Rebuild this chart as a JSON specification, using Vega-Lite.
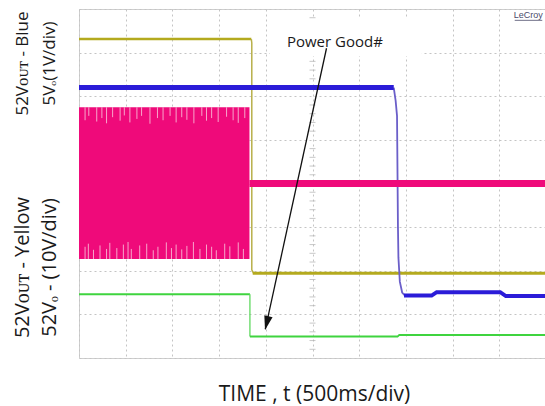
{
  "$schema": "https://vega.github.io/schema/vega-lite/v6.json",
  "width": 467,
  "height": 349,
  "autosize": {"type": "none"},
  "padding": {"left": 79, "top": 9, "right": 0, "bottom": 48},
  "background": "white",
  "config": {"view": {"stroke": "#cfcfcf", "strokeWidth": 1}, "font": "Open Sans"},
  "datasets": {
    "yellowHi": [{"t": 0, "v": 7.31}, {"t": 3.69, "v": 7.31}],
    "yellowEdge": [{"t": 3.69, "v": 7.31}, {"t": 3.7, "v": 7.22}, {"t": 3.7, "v": 2.02}, {"t": 3.74, "v": 1.94}],
    "yellowLo": [{"t": 3.72, "v": 1.94}, {"t": 10, "v": 1.94}],
    "blueHi": [{"t": 0, "v": 6.2}, {"t": 6.74, "v": 6.2}],
    "blueEdge": [{"t": 6.74, "v": 6.2}, {"t": 6.78, "v": 5.9}, {"t": 6.81, "v": 5.55}, {"t": 6.83, "v": 3.0}, {"t": 6.84, "v": 2.3}, {"t": 6.87, "v": 1.75}, {"t": 6.92, "v": 1.5}, {"t": 6.98, "v": 1.43}],
    "blueLo": [{"t": 6.96, "v": 1.43}, {"t": 7.55, "v": 1.43}, {"t": 7.66, "v": 1.51}, {"t": 9.02, "v": 1.51}, {"t": 9.14, "v": 1.42}, {"t": 10, "v": 1.42}],
    "magBand": [{"t": 0, "v": 2.27, "v2": 5.75}, {"t": 3.65, "v": 2.27, "v2": 5.75}],
    "magFlat": [{"t": 3.65, "v": 4.0}, {"t": 10, "v": 4.0}],
    "greenHi": [{"t": 0, "v": 1.46}, {"t": 3.66, "v": 1.46}],
    "greenEdge": [{"t": 3.66, "v": 1.46}, {"t": 3.66, "v": 0.49}],
    "greenLo": [{"t": 3.66, "v": 0.49}, {"t": 6.82, "v": 0.49}, {"t": 6.86, "v": 0.53}, {"t": 10, "v": 0.53}],
    "streaksTop": [
      {"t": 0.13, "v": 5.75, "v2": 5.45}, {"t": 0.21, "v": 5.75, "v2": 5.55}, {"t": 0.38, "v": 5.75, "v2": 5.42}, {"t": 0.49, "v": 5.75, "v2": 5.5}, {"t": 0.59, "v": 5.75, "v2": 5.38}, {"t": 0.72, "v": 5.75, "v2": 5.52}, {"t": 0.88, "v": 5.75, "v2": 5.44}, {"t": 0.97, "v": 5.75, "v2": 5.56}, {"t": 1.09, "v": 5.75, "v2": 5.4}, {"t": 1.24, "v": 5.75, "v2": 5.48}, {"t": 1.34, "v": 5.75, "v2": 5.55}, {"t": 1.52, "v": 5.75, "v2": 5.37}, {"t": 1.68, "v": 5.75, "v2": 5.5}, {"t": 1.8, "v": 5.75, "v2": 5.45}, {"t": 1.95, "v": 5.75, "v2": 5.55}, {"t": 2.08, "v": 5.75, "v2": 5.4}, {"t": 2.2, "v": 5.75, "v2": 5.52}, {"t": 2.31, "v": 5.75, "v2": 5.46}, {"t": 2.46, "v": 5.75, "v2": 5.38}, {"t": 2.63, "v": 5.75, "v2": 5.55}, {"t": 2.73, "v": 5.75, "v2": 5.44}, {"t": 2.84, "v": 5.75, "v2": 5.5}, {"t": 2.98, "v": 5.75, "v2": 5.41}, {"t": 3.16, "v": 5.75, "v2": 5.53}, {"t": 3.3, "v": 5.75, "v2": 5.45}, {"t": 3.41, "v": 5.75, "v2": 5.39}, {"t": 3.55, "v": 5.75, "v2": 5.5}
    ],
    "streaksBottom": [
      {"t": 0.13, "v": 2.27, "v2": 2.55}, {"t": 0.2, "v": 2.27, "v2": 2.62}, {"t": 0.31, "v": 2.27, "v2": 2.48}, {"t": 0.45, "v": 2.27, "v2": 2.58}, {"t": 0.59, "v": 2.27, "v2": 2.5}, {"t": 0.66, "v": 2.27, "v2": 2.64}, {"t": 0.81, "v": 2.27, "v2": 2.52}, {"t": 0.95, "v": 2.27, "v2": 2.6}, {"t": 1.05, "v": 2.27, "v2": 2.66}, {"t": 1.12, "v": 2.27, "v2": 2.5}, {"t": 1.3, "v": 2.27, "v2": 2.58}, {"t": 1.45, "v": 2.27, "v2": 2.62}, {"t": 1.59, "v": 2.27, "v2": 2.47}, {"t": 1.69, "v": 2.27, "v2": 2.55}, {"t": 1.87, "v": 2.27, "v2": 2.65}, {"t": 1.98, "v": 2.27, "v2": 2.52}, {"t": 2.08, "v": 2.27, "v2": 2.6}, {"t": 2.2, "v": 2.27, "v2": 2.49}, {"t": 2.31, "v": 2.27, "v2": 2.57}, {"t": 2.45, "v": 2.27, "v2": 2.66}, {"t": 2.59, "v": 2.27, "v2": 2.5}, {"t": 2.73, "v": 2.27, "v2": 2.6}, {"t": 2.84, "v": 2.27, "v2": 2.55}, {"t": 2.94, "v": 2.27, "v2": 2.47}, {"t": 3.12, "v": 2.27, "v2": 2.62}, {"t": 3.23, "v": 2.27, "v2": 2.56}, {"t": 3.41, "v": 2.27, "v2": 2.65}, {"t": 3.52, "v": 2.27, "v2": 2.5}
    ],
    "crossY": [
      {"t": 5, "v": 0.2}, {"t": 5, "v": 0.4}, {"t": 5, "v": 0.6}, {"t": 5, "v": 0.8}, {"t": 5, "v": 1.2}, {"t": 5, "v": 1.4}, {"t": 5, "v": 1.6}, {"t": 5, "v": 1.8}, {"t": 5, "v": 2.2}, {"t": 5, "v": 2.4}, {"t": 5, "v": 2.6}, {"t": 5, "v": 2.8}, {"t": 5, "v": 3.2}, {"t": 5, "v": 3.4}, {"t": 5, "v": 3.6}, {"t": 5, "v": 3.8}, {"t": 5, "v": 4.2}, {"t": 5, "v": 4.4}, {"t": 5, "v": 4.6}, {"t": 5, "v": 4.8}, {"t": 5, "v": 5.2}, {"t": 5, "v": 5.4}, {"t": 5, "v": 5.6}, {"t": 5, "v": 5.8}, {"t": 5, "v": 6.2}, {"t": 5, "v": 6.4}, {"t": 5, "v": 6.6}, {"t": 5, "v": 6.8}, {"t": 5, "v": 7.2}, {"t": 5, "v": 7.4}, {"t": 5, "v": 7.6}, {"t": 5, "v": 7.8}
    ],
    "crossX": [
      {"t": 0.2, "v": 4}, {"t": 0.4, "v": 4}, {"t": 0.6, "v": 4}, {"t": 0.8, "v": 4}, {"t": 1.2, "v": 4}, {"t": 1.4, "v": 4}, {"t": 1.6, "v": 4}, {"t": 1.8, "v": 4}, {"t": 2.2, "v": 4}, {"t": 2.4, "v": 4}, {"t": 2.6, "v": 4}, {"t": 2.8, "v": 4}, {"t": 3.2, "v": 4}, {"t": 3.4, "v": 4}, {"t": 3.6, "v": 4}, {"t": 3.8, "v": 4}, {"t": 4.2, "v": 4}, {"t": 4.4, "v": 4}, {"t": 4.6, "v": 4}, {"t": 4.8, "v": 4}, {"t": 5.2, "v": 4}, {"t": 5.4, "v": 4}, {"t": 5.6, "v": 4}, {"t": 5.8, "v": 4}, {"t": 6.2, "v": 4}, {"t": 6.4, "v": 4}, {"t": 6.6, "v": 4}, {"t": 6.8, "v": 4}, {"t": 7.2, "v": 4}, {"t": 7.4, "v": 4}, {"t": 7.6, "v": 4}, {"t": 7.8, "v": 4}, {"t": 8.2, "v": 4}, {"t": 8.4, "v": 4}, {"t": 8.6, "v": 4}, {"t": 8.8, "v": 4}, {"t": 9.2, "v": 4}, {"t": 9.4, "v": 4}, {"t": 9.6, "v": 4}, {"t": 9.8, "v": 4}
    ],
    "box": [{"t": 4.09, "t2": 7.34, "v": 6.92, "v2": 7.77}],
    "arrow": [{"t": 5.3, "v": 7.1, "t2": 3.99, "v2": 0.66}],
    "head": [{"t": 4.02, "v": 0.8}],
    "note": [{"t": 5.48, "v": 7.12, "label": "Power Good#"}],
    "brand": [{"t": 9.62, "v": 7.8, "label": "LeCroy"}],
    "brandLine": [{"t": 9.33, "t2": 9.92, "v": 7.74}]
  },
  "layer": [
    {
      "encoding": {
        "x": {
          "field": "t", "type": "quantitative",
          "scale": {"domain": [0, 10], "nice": false, "zero": false},
          "axis": {
            "values": [0, 1, 2, 3, 4, 5, 6, 7, 8, 9, 10],
            "labels": false, "ticks": false, "domain": false,
            "grid": true, "gridColor": "#c4c4c4", "gridDash": [2, 3], "gridWidth": 1,
            "title": "TIME , t (500ms/div)",
            "titleFont": "Open Sans", "titleFontSize": 21, "titleFontWeight": "normal", "titleColor": "#1a1a1a",
            "titleX": 235, "titleY": 42, "titleAlign": "center", "titleBaseline": "alphabetic"
          }
        },
        "y": {
          "field": "v", "type": "quantitative",
          "scale": {"domain": [0, 8], "nice": false, "zero": false},
          "axis": {
            "values": [0, 1, 2, 3, 4, 5, 6, 7, 8],
            "labels": false, "ticks": false, "domain": false,
            "grid": true, "gridColor": "#c4c4c4", "gridDash": [2, 3], "gridWidth": 1,
            "title": ["52Vᴏᴜᴛ - Blue", "5Vₒ(1V/div)"],
            "titleFont": "Open Sans", "titleFontSize": 17, "titleFontWeight": "normal", "titleColor": "#1a1a1a",
            "titleAngle": 270, "titleX": -57, "titleY": 54, "titleAlign": "center", "titleBaseline": "middle", "titleLineHeight": 27
          }
        }
      },
      "layer": [
        {"data": {"name": "crossY"}, "mark": {"type": "tick", "orient": "horizontal", "size": 6, "thickness": 1, "color": "#b0b0b0"}},
        {"data": {"name": "crossX"}, "mark": {"type": "tick", "orient": "vertical", "size": 6, "thickness": 1, "color": "#b0b0b0"}},
        {"data": {"name": "box"}, "mark": {"type": "rect", "color": "white"}, "encoding": {"x2": {"field": "t2"}, "y2": {"field": "v2"}}},
        {"data": {"name": "magBand"}, "mark": {"type": "area", "color": "#ef0a7a", "opacity": 1}, "encoding": {"y2": {"field": "v2"}}},
        {"data": {"name": "streaksTop"}, "mark": {"type": "rule", "color": "#f7a6cb", "strokeWidth": 1}, "encoding": {"y2": {"field": "v2"}}},
        {"data": {"name": "streaksBottom"}, "mark": {"type": "rule", "color": "#f7a6cb", "strokeWidth": 1}, "encoding": {"y2": {"field": "v2"}}},
        {"data": {"name": "yellowHi"}, "mark": {"type": "line", "color": "#b4aa1e", "strokeWidth": 2.5}},
        {"data": {"name": "yellowEdge"}, "mark": {"type": "line", "color": "#b8b04a", "strokeWidth": 1.5}},
        {"data": {"name": "yellowLo"}, "mark": {"type": "line", "color": "#b4aa1e", "strokeWidth": 3}},
        {"data": {"name": "greenHi"}, "mark": {"type": "line", "color": "#3fd43f", "strokeWidth": 2}},
        {"data": {"name": "greenEdge"}, "mark": {"type": "line", "color": "#5fd85f", "strokeWidth": 1.3}},
        {"data": {"name": "greenLo"}, "mark": {"type": "line", "color": "#3fd43f", "strokeWidth": 2}},
        {"data": {"name": "blueEdge"}, "mark": {"type": "line", "color": "#6b5fc9", "strokeWidth": 1.8}},
        {"data": {"name": "magFlat"}, "mark": {"type": "line", "color": "#ef0a7a", "strokeWidth": 7}},
        {"data": {"name": "blueHi"}, "mark": {"type": "line", "color": "#2b1cd8", "strokeWidth": 5}},
        {"data": {"name": "blueLo"}, "mark": {"type": "line", "color": "#2b1cd8", "strokeWidth": 4}},
        {"data": {"name": "arrow"}, "mark": {"type": "rule", "color": "#111111", "strokeWidth": 1.3}, "encoding": {"x2": {"field": "t2"}, "y2": {"field": "v2"}}},
        {"data": {"name": "head"}, "mark": {"type": "point", "shape": "M0,-1L0.6,1L-0.6,1Z", "size": 200, "filled": true, "color": "#111111", "opacity": 1, "angle": 194}},
        {"data": {"name": "note"}, "mark": {"type": "text", "font": "Open Sans", "fontSize": 15, "color": "#1a1a1a", "align": "center", "baseline": "alphabetic"}, "encoding": {"text": {"field": "label"}}},
        {"data": {"name": "brand"}, "mark": {"type": "text", "font": "Liberation Sans", "fontSize": 9, "color": "#4a4a6a", "align": "center", "baseline": "alphabetic"}, "encoding": {"text": {"field": "label"}}},
        {"data": {"name": "brandLine"}, "mark": {"type": "rule", "color": "#4a4a6a", "strokeWidth": 0.8}, "encoding": {"x2": {"field": "t2"}}}
      ]
    },
    {
      "data": {"values": [{"v": 0}]},
      "mark": {"type": "point", "opacity": 0},
      "encoding": {
        "y": {
          "field": "v", "type": "quantitative",
          "scale": {"domain": [0, 8], "nice": false, "zero": false},
          "axis": {
            "orient": "right", "labels": false, "ticks": false, "domain": false, "grid": false,
            "title": ["52Vᴏᴜᴛ - Yellow", "52Vₒ - (10V/div)"],
            "titleFont": "Open Sans", "titleFontSize": 20, "titleFontWeight": "normal", "titleColor": "#1a1a1a",
            "titleAngle": 270, "titleX": -524, "titleY": 258, "titleAlign": "center", "titleBaseline": "middle", "titleLineHeight": 27
          }
        }
      }
    }
  ],
  "resolve": {"scale": {"y": "independent"}}
}
